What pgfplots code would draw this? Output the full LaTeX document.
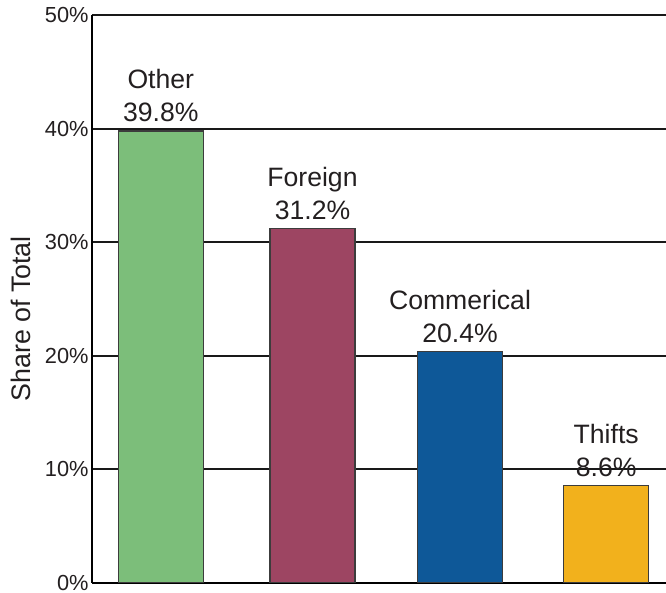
\documentclass[border=0pt]{standalone}
\usepackage{pgfplots}
\pgfplotsset{compat=1.18}
\usepackage{fontspec}
\setmainfont{Liberation Sans}
\definecolor{cgreen}{RGB}{124,190,122}
\definecolor{cmaroon}{RGB}{157,69,98}
\definecolor{cblue}{RGB}{14,88,152}
\definecolor{cyellow}{RGB}{242,177,28}
\definecolor{cedge}{RGB}{60,60,60}
\definecolor{ctext}{RGB}{35,31,32}
\begin{document}
\begin{tikzpicture}
\begin{axis}[
  name=ax,
  scale only axis,
  width=287pt, height=284pt,
  xmin=0, xmax=574,
  ymin=0, ymax=50,
  ytick={0,10,20,30,40,50},
  xtick=\empty,
  axis x line*=bottom,
  axis y line*=left,
  axis line style={line width=1.3pt, black, -},
  major tick length=0pt,
  ymajorgrids,
  grid style={line width=1pt, black!90},
  /pgf/number format/assume math mode=true,
  yticklabel={\pgfmathprintnumber{\tick}\%},
  yticklabel style={font=\fontsize{10.9}{12}\selectfont, text=ctext, inner sep=1.5pt},
  ylabel={Share of Total},
  ylabel style={font=\fontsize{13.4}{16}\selectfont, text=ctext, at={(axis description cs:-0.124,0.465)}, anchor=center},
  ybar, bar shift=0pt, bar width=85,
  nodes near coords style={font=\fontsize{13.3}{16.5}\selectfont, text=ctext, align=center, anchor=south, yshift=0.8pt},
]
\addplot[fill=cgreen, draw=cedge, line width=0.7pt,
  nodes near coords={Other\\39.8\%}] coordinates {(68.8,39.8)};
\addplot[fill=cmaroon, draw=cedge, line width=0.7pt,
  nodes near coords={Foreign\\31.2\%}] coordinates {(220.5,31.2)};
\addplot[fill=cblue, draw=cedge, line width=0.7pt,
  nodes near coords={Commerical\\20.4\%}] coordinates {(368,20.4)};
\addplot[fill=cyellow, draw=cedge, line width=0.7pt,
  nodes near coords={Thifts\\8.6\%}] coordinates {(514.2,8.6)};
\end{axis}
\pgfresetboundingbox
\path ([xshift=-46pt,yshift=-5pt]ax.south west) rectangle ([yshift=7.5pt]ax.north east);
\end{tikzpicture}
\end{document}
